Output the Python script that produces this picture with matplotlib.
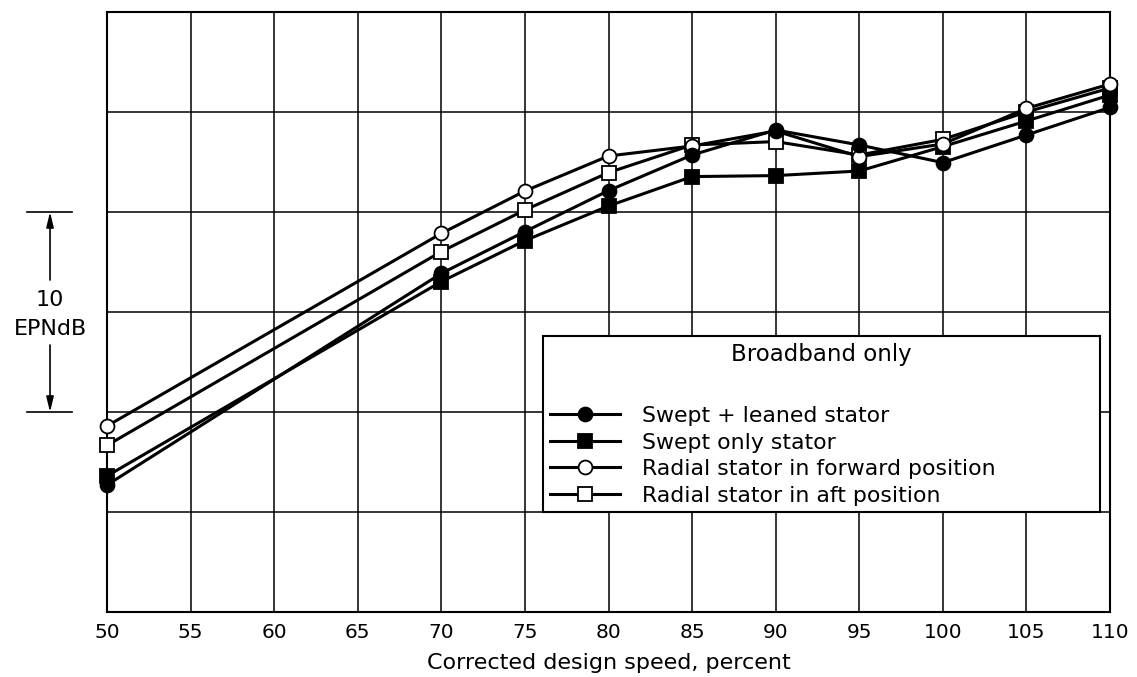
import matplotlib
matplotlib.use('Agg')
import matplotlib.pyplot as plt
from matplotlib.transforms import blended_transform_factory

# Data (relative noise level, EPNdB; grid spacing = 5 EPNdB)
speed = [50, 70, 75, 80, 85, 90, 95, 100, 105, 110]
swept_leaned = [6.35, 16.93, 19.02, 21.07, 22.85, 24.10, 23.35, 22.47, 23.85, 25.23]
swept_only = [6.80, 16.52, 18.57, 20.30, 21.77, 21.82, 22.05, 23.27, 24.55, 25.85]
radial_fwd = [9.30, 18.93, 21.05, 22.80, 23.30, 24.05, 22.77, 23.40, 25.18, 26.40]
radial_aft = [8.33, 18.02, 20.10, 21.97, 23.35, 23.52, 22.85, 23.63, 25.00, 26.20]
labels = ["Swept + leaned stator", "Swept only stator",
          "Radial stator in forward position", "Radial stator in aft position"]
xticks = [50, 55, 60, 65, 70, 75, 80, 85, 90, 95, 100, 105, 110]

plt.rcParams['font.family'] = ['DejaVu Sans']

fig = plt.figure(figsize=(11.37, 6.77), dpi=100)
ax = fig.add_axes([0.0941, 0.0960, 0.8822, 0.8863])

series = [
    (swept_leaned, 'o', 'black', 6, labels[0]),
    (swept_only, 's', 'black', 4, labels[1]),
    (radial_fwd, 'o', 'white', 5, labels[2]),
    (radial_aft, 's', 'white', 3, labels[3]),
]
handles = []
for vals, mk, face, z, lab in series:
    ln, = ax.plot(speed, vals, color='black', lw=2.2, marker=mk, ms=10,
                  mfc=face, mec='black', mew=1.3, zorder=z, clip_on=False,
                  label=lab)
    handles.append(ln)

ax.set_xlim(50, 110)
ax.set_ylim(0, 30)
ax.set_xticks(xticks)
ax.set_yticks(range(0, 31, 5))
ax.set_yticklabels([])
ax.tick_params(axis='both', length=0, labelsize=14.5, pad=8)
ax.grid(True, color='black', lw=1.1)
ax.set_axisbelow(True)
for s in ax.spines.values():
    s.set_linewidth(1.5)
ax.set_xlabel('Corrected design speed, percent', fontsize=16, labelpad=8)

leg = ax.legend(handles=handles, title="Broadband only\n", loc='upper left',
                bbox_to_anchor=(0.4347, 0.1833, 0.5553, 0.2767), mode='expand',
                borderaxespad=0, fontsize=15.8, title_fontsize=16.5,
                frameon=True, fancybox=False, framealpha=1, edgecolor='black',
                handlelength=3.2, handletextpad=1.0, labelspacing=0.3,
                borderpad=0.3)
leg.get_title().set_linespacing(1.6)
leg.get_frame().set_linewidth(1.5)
leg.set_zorder(10)

# 10 EPNdB scale annotation
tr = blended_transform_factory(ax.transAxes, ax.transData)
for yv in (20, 10):
    ax.plot([-0.0798, -0.0349], [yv, yv], transform=tr, color='black', lw=1.2,
            clip_on=False)
xa = -0.0568
astyle = dict(arrowstyle='-|>,head_length=0.9,head_width=0.22', color='black',
              lw=1.2, shrinkA=0, shrinkB=0)
ax.annotate('', xy=(xa, 20), xytext=(xa, 16.6), xycoords=tr, textcoords=tr,
            arrowprops=astyle, annotation_clip=False)
ax.annotate('', xy=(xa, 10), xytext=(xa, 13.35), xycoords=tr, textcoords=tr,
            arrowprops=astyle, annotation_clip=False)
ax.text(xa, 15.6, '10', transform=tr, ha='center', va='center', fontsize=16)
ax.text(xa, 14.15, 'EPNdB', transform=tr, ha='center', va='center', fontsize=16)

fig.savefig('out.png', dpi=100)
